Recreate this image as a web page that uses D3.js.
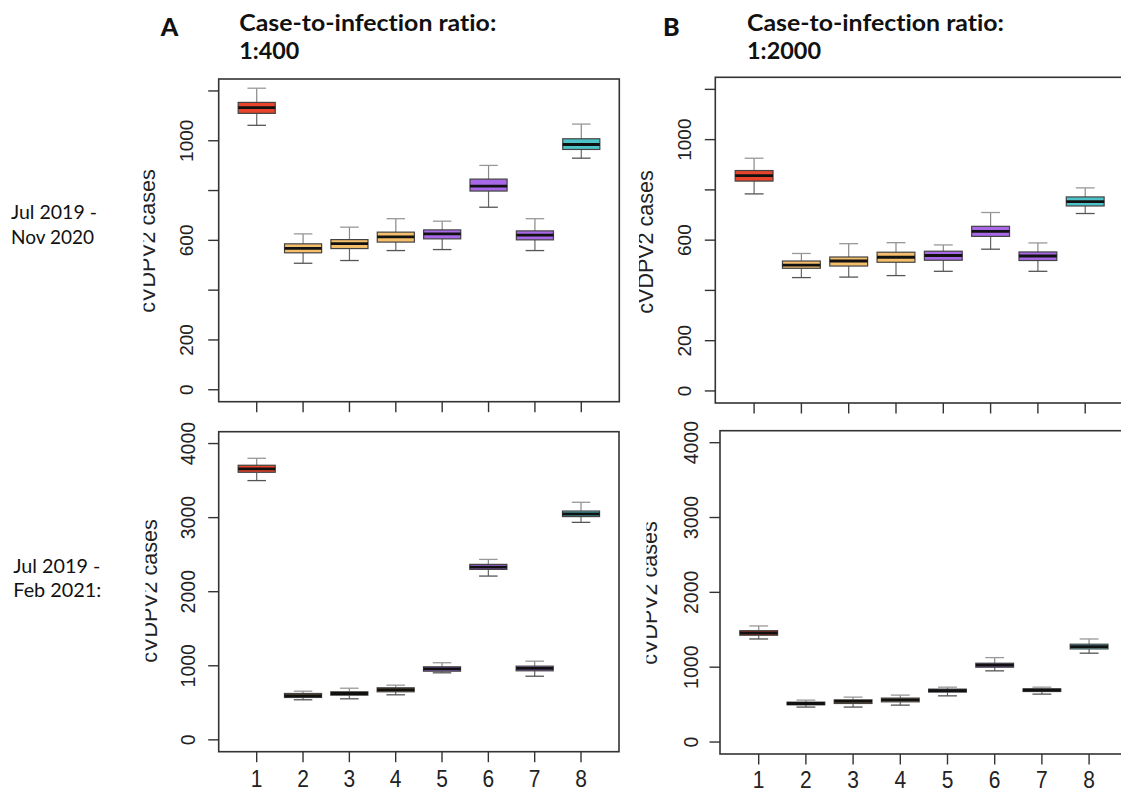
<!DOCTYPE html>
<html>
<head>
<meta charset="utf-8">
<script src="https://cdn.jsdelivr.net/npm/d3@7"></script>
<style>
  html, body { margin: 0; padding: 0; background: #fff; }
  svg { display: block; }
  text { font-variant-ligatures: none; font-feature-settings: "liga" 0, "clig" 0; }
</style>
</head>
<body>
<svg id="chart" width="1121" height="792"></svg>
<script>
// ---------------- DATA ----------------
const categories = ["1", "2", "3", "4", "5", "6", "7", "8"];
const boxColors = ["#E8432B", "#F4BE6A", "#F4BE6A", "#F4BE6A", "#A968E8", "#A968E8", "#A968E8", "#4CC3C8"];

// Panel A, Jul 2019 - Nov 2020 (ratio 1:400)
const a1Low  = [1062, 508, 519, 559, 563, 733, 559, 930];
const a1Q1   = [1110, 550, 567, 593, 606, 798, 602, 965];
const a1Med  = [1133, 568, 587, 614, 626, 818, 621, 985];
const a1Q3   = [1154, 586, 603, 633, 642, 846, 638, 1008];
const a1High = [1211, 626, 653, 687, 677, 901, 687, 1067];

// Panel B, Jul 2019 - Nov 2020 (ratio 1:2000)
const b1Low  = [784, 451, 453, 459, 476, 564, 476, 706];
const b1Q1   = [835, 488, 497, 512, 520, 615, 519, 736];
const b1Med  = [857, 501, 517, 532, 539, 635, 537, 753];
const b1Q3   = [877, 517, 533, 552, 556, 655, 553, 772];
const b1High = [926, 547, 586, 590, 581, 710, 589, 808];

// Panel A, Jul 2019 - Feb 2021 (ratio 1:400)
const a2Low  = [3500, 541, 554, 608, 905, 2211, 859, 2936];
const a2Q1   = [3612, 572, 603, 649, 927, 2301, 932, 3014];
const a2Med  = [3657, 595, 626, 676, 959, 2332, 964, 3049];
const a2Q3   = [3707, 626, 649, 703, 986, 2369, 995, 3089];
const a2High = [3801, 657, 697, 738, 1041, 2436, 1062, 3207];

// Panel B, Jul 2019 - Feb 2021 (ratio 1:2000)
const b2Low  = [1377, 467, 467, 493, 617, 951, 640, 1187];
const b2Q1   = [1427, 497, 515, 537, 667, 1000, 675, 1244];
const b2Med  = [1457, 515, 542, 564, 688, 1027, 693, 1275];
const b2Q3   = [1488, 533, 564, 587, 707, 1053, 711, 1307];
const b2High = [1551, 560, 600, 627, 733, 1128, 733, 1377];

const yTicksTop = [0, 200, 400, 600, 800, 1000, 1200];
const yTickLabelsTop = ["0", "200", "", "600", "", "1000", ""];
const yTicksBottom = [0, 1000, 2000, 3000, 4000];
const yTickLabelsBottom = ["0", "1000", "2000", "3000", "4000"];

const yAxisTitle = "cVDPV2 cases";
const panelLetters = ["A", "B"];
const titleLine1 = "Case-to-infection ratio:";
const titleLines2 = ["1:400", "1:2000"];
const rowLabels = [["Jul 2019 -", "Nov 2020"], ["Jul 2019 -", "Feb 2021:"]];

// ---------------- LAYOUT ----------------
const svg = d3.select("#chart");
const FONT = "'Liberation Sans', Arial, Helvetica, sans-serif";
const TFONT = "Lato, 'Open Sans', sans-serif";

const panels = [
  { low: a1Low, q1: a1Q1, med: a1Med, q3: a1Q3, high: a1High,
    left: 218.7, right: 619.3, top: 79, bottom: 401.7, ydom: [-48, 1248],
    ticks: yTicksTop, tickLabels: yTickLabelsTop, xLabels: false,
    ylabX: 193.3, titleX: 155, titleY: 241, clipX: 143.5, fs: 19 },
  { low: b1Low, q1: b1Q1, med: b1Med, q3: b1Q3, high: b1High,
    left: 715.3, right: 1124, top: 77.3, bottom: 403, ydom: [-48, 1248],
    ticks: yTicksTop, tickLabels: yTickLabelsTop, xLabels: false,
    ylabX: 691, titleX: 652.7, titleY: 242, clipX: 639, fs: 19 },
  { low: a2Low, q1: a2Q1, med: a2Med, q3: a2Q3, high: a2High,
    left: 218.7, right: 619, top: 431.7, bottom: 751.7, ydom: [-160, 4160],
    ticks: yTicksBottom, tickLabels: yTickLabelsBottom, xLabels: true,
    ylabX: 195, titleX: 156.5, titleY: 591, clipX: 145.5, fs: 19.5, xlabY: 786.5 },
  { low: b2Low, q1: b2Q1, med: b2Med, q3: b2Q3, high: b2High,
    left: 720, right: 1127.8, top: 430.7, bottom: 754, ydom: [-160, 4160],
    ticks: yTicksBottom, tickLabels: yTickLabelsBottom, xLabels: true,
    ylabX: 698.3, titleX: 657.3, titleY: 593, clipX: 646.5, fs: 19.5, xlabY: 787.5 }
];

const defs = svg.append("defs");

panels.forEach((p, pi) => {
  const g = svg.append("g");
  const x = d3.scaleLinear().domain([0.18, 8.82]).range([p.left, p.right]);
  const y = d3.scaleLinear().domain(p.ydom).range([p.bottom, p.top]);
  const unit = x(2) - x(1);
  const bw = unit * 0.8;
  const sw = bw * 0.5;

  // boxes
  categories.forEach((c, i) => {
    const cx = x(i + 1);
    const bg = g.append("g");
    // whiskers
    bg.append("line").attr("x1", cx).attr("x2", cx)
      .attr("y1", y(p.q3[i])).attr("y2", y(p.high[i]))
      .attr("stroke", "#888").attr("stroke-width", 1.2);
    bg.append("line").attr("x1", cx).attr("x2", cx)
      .attr("y1", y(p.q1[i])).attr("y2", y(p.low[i]))
      .attr("stroke", "#666").attr("stroke-width", 1.2);
    // staples
    bg.append("line").attr("x1", cx - sw / 2).attr("x2", cx + sw / 2)
      .attr("y1", y(p.high[i])).attr("y2", y(p.high[i]))
      .attr("stroke", "#999").attr("stroke-width", 1.3);
    bg.append("line").attr("x1", cx - sw / 2).attr("x2", cx + sw / 2)
      .attr("y1", y(p.low[i])).attr("y2", y(p.low[i]))
      .attr("stroke", "#555").attr("stroke-width", 1.3);
    // box
    bg.append("rect").attr("x", cx - bw / 2).attr("width", bw)
      .attr("y", y(p.q3[i])).attr("height", y(p.q1[i]) - y(p.q3[i]))
      .attr("fill", boxColors[i]).attr("stroke", "#444").attr("stroke-width", 1.2);
    // median
    bg.append("line").attr("x1", cx - bw / 2).attr("x2", cx + bw / 2)
      .attr("y1", y(p.med[i])).attr("y2", y(p.med[i]))
      .attr("stroke", "#111").attr("stroke-width", 2.8);
  });

  // frame
  g.append("rect").attr("x", p.left).attr("y", p.top)
    .attr("width", p.right - p.left).attr("height", p.bottom - p.top)
    .attr("fill", "none").attr("stroke", "#333").attr("stroke-width", 1.6);

  // y ticks
  p.ticks.forEach((t, k) => {
    g.append("line").attr("x1", p.left - 10.5).attr("x2", p.left)
      .attr("y1", y(t)).attr("y2", y(t)).attr("stroke", "#333").attr("stroke-width", 1.4);
    if (p.tickLabels[k]) {
      g.append("text").text(p.tickLabels[k])
        .attr("transform", `translate(${p.ylabX},${y(t)}) rotate(-90)`)
        .attr("text-anchor", "middle")
        .attr("font-family", FONT).attr("font-size", p.fs).attr("fill", "#222");
    }
  });

  // x ticks
  categories.forEach((c, i) => {
    g.append("line").attr("x1", x(i + 1)).attr("x2", x(i + 1))
      .attr("y1", p.bottom).attr("y2", p.bottom + 10.5)
      .attr("stroke", "#333").attr("stroke-width", 1.4);
    if (p.xLabels) {
      g.append("text").text(c)
        .attr("transform", `translate(${x(i + 1)},${p.xlabY}) scale(1,1.12)`)
        .attr("text-anchor", "middle")
        .attr("font-family", FONT).attr("font-size", 21).attr("fill", "#222");
    }
  });

  // axis title, clipped at the left like the original composite
  const cid = "clip" + pi;
  defs.append("clipPath").attr("id", cid).attr("clipPathUnits", "userSpaceOnUse")
    .append("rect")
    .attr("x", p.clipX).attr("y", p.top).attr("width", 60).attr("height", p.bottom - p.top);
  g.append("g").attr("clip-path", `url(#${cid})`)
    .append("text").text(yAxisTitle)
    .attr("transform", `translate(${p.titleX},${p.titleY}) rotate(-90)`)
    .attr("text-anchor", "middle")
    .attr("font-family", FONT).attr("font-size", 21.5).attr("fill", "#222");
});

// ---------------- HEADINGS ----------------
const letterX = [160.7, 663];
const titleX = [239.3, 747];
const title2W = [60, 74];
panelLetters.forEach((L, i) => {
  svg.append("text").text(L).attr("x", letterX[i]).attr("y", 36)
    .attr("font-family", TFONT).attr("font-weight", "900").attr("font-size", 25).attr("fill", "#111");
  svg.append("text").text(titleLine1).attr("x", titleX[i]).attr("y", 31)
    .attr("textLength", 257).attr("lengthAdjust", "spacingAndGlyphs")
    .attr("font-family", TFONT).attr("font-weight", "bold").attr("font-size", 23).attr("fill", "#111");
  svg.append("text").text(titleLines2[i]).attr("x", titleX[i]).attr("y", 59.3)
    .attr("textLength", title2W[i]).attr("lengthAdjust", "spacingAndGlyphs")
    .attr("font-family", TFONT).attr("font-weight", "bold").attr("font-size", 23).attr("fill", "#111");
});

// Row labels
const rowX = [11, 13.3];
const rowY = [[219.3, 244.3], [572.7, 597.3]];
const rowW = [[86, 83], [87, 88]];
rowLabels.forEach((lines, r) => {
  lines.forEach((s, k) => {
    svg.append("text").text(s).attr("x", rowX[r]).attr("y", rowY[r][k])
      .attr("textLength", rowW[r][k]).attr("lengthAdjust", "spacingAndGlyphs")
      .attr("font-family", TFONT).attr("font-size", 18.5).attr("fill", "#111");
  });
});
</script>
</body>
</html>
